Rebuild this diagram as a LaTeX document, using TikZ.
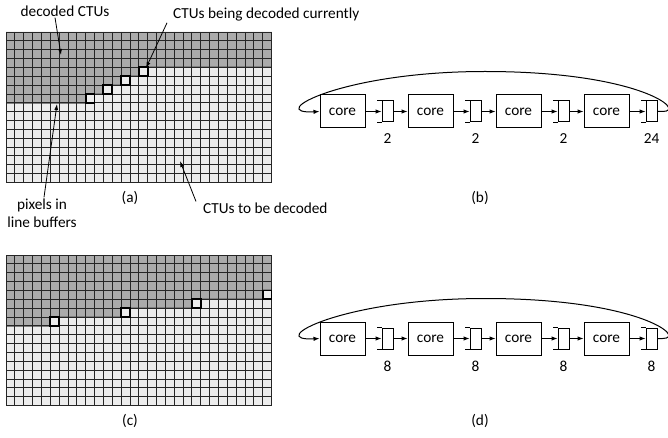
\documentclass[tikz,border=0pt]{standalone}
\usepackage{fontspec}
\setmainfont{Carlito}
\usetikzlibrary{arrows.meta,positioning}

\def\cs{8.85}

\begin{document}
\begin{tikzpicture}[x=1pt,y=-1pt,
    font=\fontsize{15.3}{18}\selectfont,
    lightcell/.style={fill=black!7},
    darkcell/.style={fill=black!33},
    gridline/.style={draw=black!85,line width=0.8pt},
    edgeline/.style={draw=black!50,line width=2pt},
    current/.style={draw=black,line width=1.8pt,fill=black!7},
    core/.style={draw,line width=1pt,minimum width=45pt,minimum height=33pt,inner sep=0pt},
    fifo/.style={draw,line width=1pt,minimum width=11pt,minimum height=21pt,inner sep=0pt},
    pointer/.style={-{Latex[length=6pt,width=4pt]},line width=0.8pt},
    link/.style={-{Latex[length=6pt,width=4.5pt]},line width=1pt},
    lbl/.style={inner sep=1pt}]
  \useasboundingbox (0,0) rectangle (668,438);

  % grid (a): two CTUs offset per row
  \begin{scope}[shift={(6,32)}]
    \fill[lightcell] (0,0) rectangle (30*\cs,17*\cs);
    \fill[darkcell] (0,0) -- (30*\cs,0) -- (30*\cs,4*\cs) -- (15*\cs,4*\cs) -- (15*\cs,5*\cs)
      -- (13*\cs,5*\cs) -- (13*\cs,6*\cs) -- (11*\cs,6*\cs) -- (11*\cs,7*\cs)
      -- (9*\cs,7*\cs) -- (9*\cs,8*\cs) -- (0,8*\cs) -- cycle;
    \draw[edgeline] (30*\cs,4*\cs) -- (15*\cs,4*\cs) -- (15*\cs,5*\cs) -- (13*\cs,5*\cs)
      -- (13*\cs,6*\cs) -- (11*\cs,6*\cs) -- (11*\cs,7*\cs) -- (9*\cs,7*\cs)
      -- (9*\cs,8*\cs) -- (0,8*\cs);
    \foreach \i in {0,...,30}
      \draw[gridline] (\i*\cs,0) -- (\i*\cs,17*\cs);
    \foreach \j in {0,...,17}
      \draw[gridline] (0,\j*\cs) -- (30*\cs,\j*\cs);
    \foreach \c/\r in {15/4,13/5,11/6,9/7}
      \draw[current] (\c*\cs,\r*\cs) rectangle ++(\cs,\cs);
  \end{scope}

  % grid (c): eight CTUs offset per row
  \begin{scope}[shift={(6,255)}]
    \fill[lightcell] (0,0) rectangle (30*\cs,17*\cs);
    \fill[darkcell] (0,0) -- (30*\cs,0) -- (30*\cs,4*\cs) -- (29*\cs,4*\cs) -- (29*\cs,5*\cs)
      -- (21*\cs,5*\cs) -- (21*\cs,6*\cs) -- (13*\cs,6*\cs) -- (13*\cs,7*\cs)
      -- (5*\cs,7*\cs) -- (5*\cs,8*\cs) -- (0,8*\cs) -- cycle;
    \draw[edgeline] (30*\cs,4*\cs) -- (29*\cs,4*\cs) -- (29*\cs,5*\cs) -- (21*\cs,5*\cs)
      -- (21*\cs,6*\cs) -- (13*\cs,6*\cs) -- (13*\cs,7*\cs) -- (5*\cs,7*\cs)
      -- (5*\cs,8*\cs) -- (0,8*\cs);
    \foreach \i in {0,...,30}
      \draw[gridline] (\i*\cs,0) -- (\i*\cs,17*\cs);
    \foreach \j in {0,...,17}
      \draw[gridline] (0,\j*\cs) -- (30*\cs,\j*\cs);
    \foreach \c/\r in {29/4,21/5,13/6,5/7}
      \draw[current] (\c*\cs,\r*\cs) rectangle ++(\cs,\cs);
  \end{scope}

  % labels of grid (a)
  \node[lbl] (decoded) at (65,11) {decoded CTUs};
  \coordinate (decodedtip) at (61,55);
  \draw[pointer] ([xshift=-10pt]decoded.south) -- (decodedtip);

  \node[lbl,anchor=west] (being) at (172,15) {CTUs being decoded currently};
  \coordinate (beingtip) at (146,68);
  \draw[pointer] ([xshift=-5pt]being.south west) -- (beingtip);

  \node[lbl,align=center] (pixels) at (42,213) {pixels in\\line buffers};
  \coordinate (pixelstip) at (57,104);
  \draw[pointer] ([xshift=2pt]pixels.north) -- (pixelstip);

  \node[lbl,anchor=west] (todo) at (202,208) {CTUs to be decoded};
  \coordinate (todotip) at (180,161);
  \draw[pointer] ([xshift=-6pt]todo.north west) -- (todotip);

  % pipelines (b) and (d)
  \foreach \p/\yy/\na/\nb in {b/111.5/2/24, d/338.5/8/8}
  {
    \foreach \k/\n in {1/\na,2/\na,3/\na,4/\nb}
    {
      \node[core] (\p core\k) at ({342.5+88*(\k-1)},\yy) {core};
      \node[fifo,right=16pt of \p core\k] (\p buf\k) {};
      \draw[line width=1pt] (\p buf\k.north west) -- ++(-5,0)
        (\p buf\k.south west) -- ++(-5,0);
      \node[lbl,below=10pt of \p buf\k] (\p num\k) {\n};
      \draw[link] (\p core\k) -- (\p buf\k);
    }
    \foreach \k/\nk in {1/2,2/3,3/4}
      \draw[link] (\p buf\k) -- (\p core\nk);
    \coordinate (\p top) at (485,\yy-40);
    \draw[link] (\p buf4.east) -- ++(5,0) .. controls +(25,0) and +(155,0) .. (\p top)
      .. controls +(-145,0) and +(-55,3) .. (\p core1.west);
  }

  % captions
  \node[lbl] (capa) at (130,198) {(a)};
  \node[lbl] (capb) at (480,198) {(b)};
  \node[lbl] (capc) at (130,421) {(c)};
  \node[lbl] (capd) at (480,421) {(d)};
\end{tikzpicture}
\end{document}
